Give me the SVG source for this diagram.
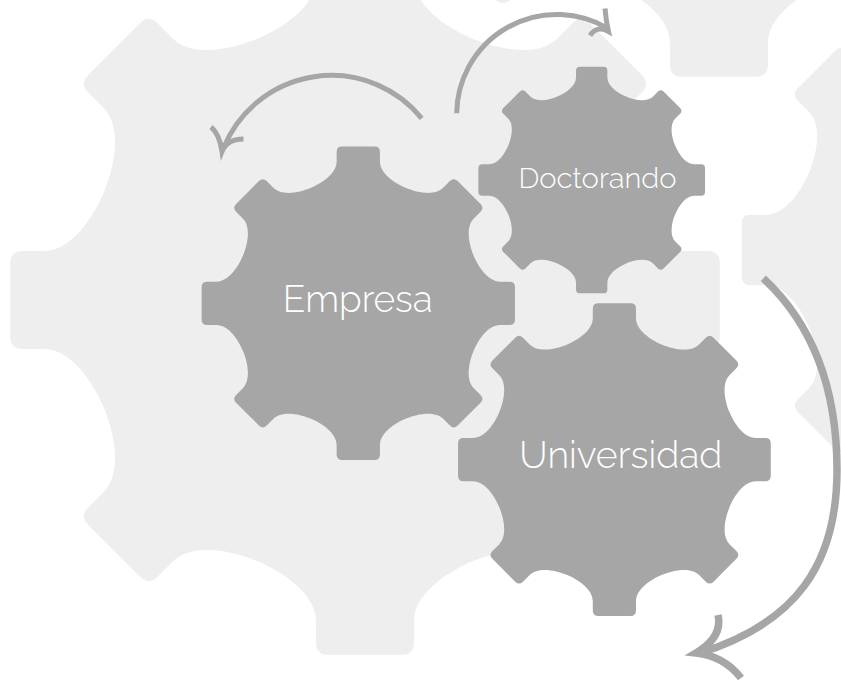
<svg xmlns="http://www.w3.org/2000/svg" width="841" height="680" viewBox="0 0 841 680">
  <style>
    .bg { fill: #eeeeee; }
    .cog { fill: #a6a6a6; }
    .arr { fill: none; stroke: #a6a6a6; stroke-linecap: butt; stroke-linejoin: miter; }
    .lbl { fill: #ffffff; font-family: "Raleway", "Lato", "Open Sans", sans-serif; font-weight: 300; text-anchor: middle; }
  </style>
  <defs>
    <g id="gear">
      <path id="tooth" d="M-47.8 -115.5C-36.7 -120.1 -21.7 -130 -21.7 -142L-21.7 -151.5Q-21.7 -157 -16.2 -157L16.2 -157Q21.7 -157 21.7 -151.5L21.7 -142C21.7 -130 36.7 -120.1 47.8 -115.5L60 -80L0 0L-60 -80Z"/>
      <use href="#tooth" transform="rotate(45)"/>
      <use href="#tooth" transform="rotate(90)"/>
      <use href="#tooth" transform="rotate(135)"/>
      <use href="#tooth" transform="rotate(180)"/>
      <use href="#tooth" transform="rotate(225)"/>
      <use href="#tooth" transform="rotate(270)"/>
      <use href="#tooth" transform="rotate(315)"/>
      <circle cx="0" cy="0" r="124"/>
    </g>
  </defs>

  <rect x="0" y="0" width="841" height="680" fill="#ffffff"/>

  <g id="background-gears">
    <use class="bg" href="#gear" transform="translate(365 300) scale(2.26)"/>
    <use class="bg" href="#gear" transform="translate(719 -278) scale(2.26)"/>
    <use class="bg" href="#gear" transform="translate(997 250) scale(1.626)"/>
  </g>

  <g id="node-empresa">
    <use class="cog" href="#gear" transform="translate(358.3 303.3) scale(0.998)"/>
    <text class="lbl" x="357.7" y="311.7" font-size="37" textLength="150" lengthAdjust="spacingAndGlyphs">Empresa</text>
  </g>

  <g id="node-doctorando">
    <use class="cog" href="#gear" transform="translate(591.7 180) scale(0.722)"/>
    <text class="lbl" x="597.5" y="187.7" font-size="28" textLength="158" lengthAdjust="spacingAndGlyphs">Doctorando</text>
  </g>

  <g id="node-universidad">
    <use class="cog" href="#gear" transform="translate(614.4 459.7) scale(0.996)"/>
    <text class="lbl" x="620.8" y="467.6" font-size="37" textLength="203" lengthAdjust="spacingAndGlyphs">Universidad</text>
  </g>

  <g id="connectors">
    <path class="arr" stroke-width="5" d="M421.7 118.3A116.5 116.5 0 0 0 223.5 148"/>
    <path class="arr" stroke-width="5" d="M211 127Q219.5 134 222 151.5Q227 139 243.5 139"/>
    <path class="arr" stroke-width="5" d="M456.7 113.3A100 100 0 0 1 607 28"/>
    <path class="arr" stroke-width="5" d="M605 8.5Q606 21 608.5 31.5Q597 25 590 35.5"/>
    <path class="arr" stroke-width="7.5" d="M763.3 278.3C814.3 325.6 837 390 837 470C837 565 795.4 623 700 653"/>
    <path class="arr" stroke-width="7.5" d="M718 615Q723 637 696 653Q724 656 741 678"/>
  </g>
</svg>
